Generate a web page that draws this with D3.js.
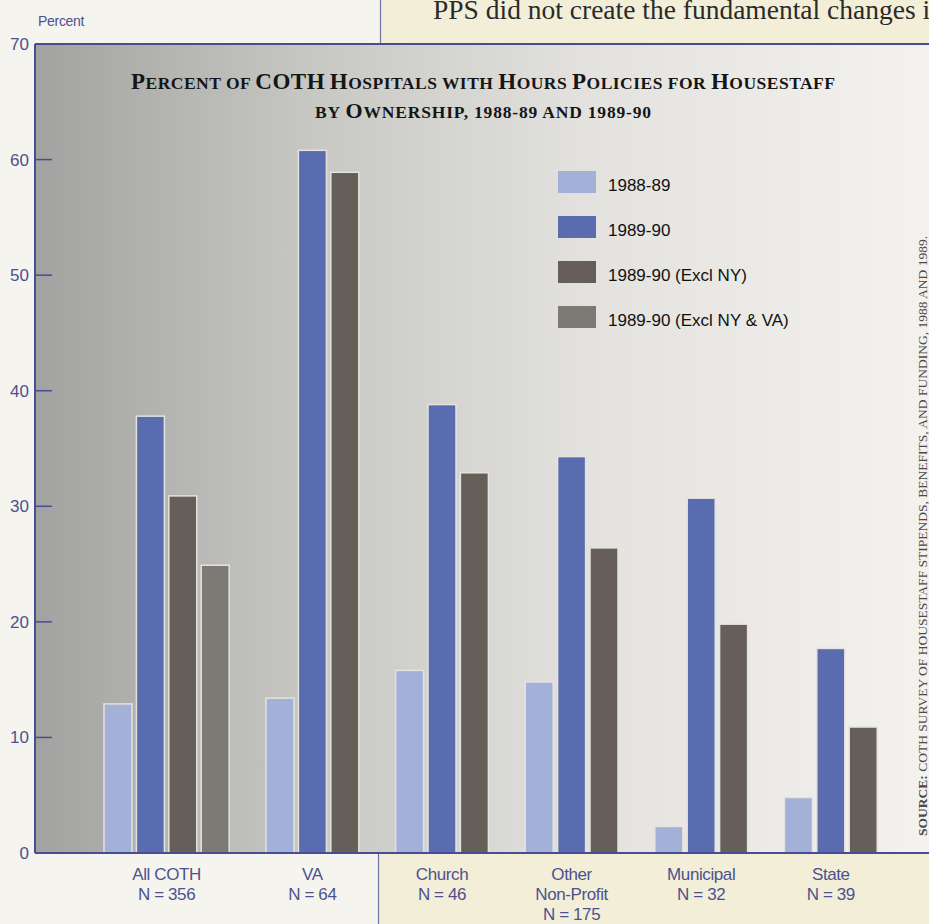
<!DOCTYPE html>
<html lang="en">
  <head>
    <meta charset="UTF-8" />
    <title>COTH Hours Policies</title>
    <script src="https://cdn.jsdelivr.net/npm/d3@7"></script>
    <style>
      body { margin: 0; background: #f5f4ef; }
      svg { display: block; }
    </style>
  </head>
  <body>
    <svg id="chart" width="929" height="924"></svg>

  <script>
    // data
    const categories = ["All COTH", "VA", "Church", "Other Non-Profit", "Municipal", "State"];
    const catLabels = [
      ["All COTH", "N = 356"],
      ["VA", "N = 64"],
      ["Church", "N = 46"],
      ["Other", "Non-Profit", "N = 175"],
      ["Municipal", "N = 32"],
      ["State", "N = 39"]
    ];
    const seriesNames = ["1988-89", "1989-90", "1989-90 (Excl NY)", "1989-90 (Excl NY & VA)"];
    const v1988 = [12.9, 13.4, 15.8, 14.8, 2.3, 4.8];
    const v1989 = [37.8, 60.8, 38.8, 34.3, 30.7, 17.7];
    const vExclNY = [30.9, 58.9, 32.9, 26.4, 19.8, 10.9];
    const vExclNYVA = [24.9, null, null, null, null, null];
    const yTicks = [0, 10, 20, 30, 40, 50, 60, 70];

    const colors = ["#a3b0d8", "#5a6cb0", "#665e58", "#7d7974"];
    const axisBlue = "#464d92";
    const labelBlue = "#4b5290";
    const sans = "Liberation Sans, Arial, sans-serif";
    const serif = "Liberation Serif, DejaVu Serif, serif";

    const svg = d3.select("#chart");
    const width = 929, height = 924;

    // plot box
    const plotLeft = 35, plotTop = 44, plotBottom = 853;

    const y = d3.scaleLinear().domain([0, 70]).range([plotBottom, plotTop]);

    // lay bars out in slots, one empty slot between groups
    let bars = [];
    let groups = [];
    let slot = 0;
    const seriesVals = [v1988, v1989, vExclNY, vExclNYVA];
    categories.forEach(function (c, i) {
      let first = slot;
      seriesVals.forEach(function (vals, s) {
        if (vals[i] != null) {
          bars.push({ cat: c, series: s, value: vals[i], slot: slot });
          slot++;
        }
      });
      groups.push({ cat: c, lines: catLabels[i], first: first, last: slot - 1 });
      slot++;
    });

    const x = d3.scaleLinear().domain([0, 1]).range([104, 136.4]);
    const barW = 28;

    // page backgrounds
    svg.append("rect").attr("x", 0).attr("y", 0).attr("width", width).attr("height", height).attr("fill", "#f5f4ef");
    svg.append("rect").attr("x", 380).attr("y", 0).attr("width", width - 380).attr("height", plotTop).attr("fill", "#f3eed8");
    svg.append("line").attr("x1", 380.5).attr("x2", 380.5).attr("y1", 0).attr("y2", plotTop)
      .attr("stroke", "#6e73a6").attr("stroke-width", 1.2);
    svg.append("rect").attr("x", 378).attr("y", plotBottom).attr("width", width - 378).attr("height", height - plotBottom).attr("fill", "#f3eed8");
    svg.append("line").attr("x1", 378.5).attr("x2", 378.5).attr("y1", plotBottom).attr("y2", height)
      .attr("stroke", "#6e73a6").attr("stroke-width", 1.2);

    // text bleeding in from the facing page
    svg.append("text")
      .attr("x", 433).attr("y", 19)
      .attr("font-family", serif)
      .attr("font-size", 27.5)
      .attr("fill", "#2a2a2a")
      .text("PPS did not create the fundamental changes i");

    // plot background gradient
    const defs = svg.append("defs");
    const grad = defs.append("linearGradient").attr("id", "bg").attr("x1", "0%").attr("x2", "100%").attr("y1", "0%").attr("y2", "0%");
    grad.append("stop").attr("offset", "0%").attr("stop-color", "#a2a2a0");
    grad.append("stop").attr("offset", "30%").attr("stop-color", "#c6c6c3");
    grad.append("stop").attr("offset", "62%").attr("stop-color", "#e3e2de");
    grad.append("stop").attr("offset", "100%").attr("stop-color", "#f3f2ee");

    svg.append("rect").attr("x", plotLeft).attr("y", plotTop).attr("width", width - plotLeft).attr("height", plotBottom - plotTop)
      .attr("fill", "url(#bg)");

    // bars
    svg.append("g").selectAll("rect")
      .data(bars)
      .join("rect")
      .attr("x", d => x(d.slot))
      .attr("y", d => y(d.value))
      .attr("width", barW)
      .attr("height", d => y(0) - y(d.value))
      .attr("fill", d => colors[d.series])
      .attr("stroke", "#e4e3de")
      .attr("stroke-width", 1.5);

    // axes
    const yAxis = d3.axisLeft(y).tickValues(yTicks).tickSize(0).tickPadding(6);
    const gy = svg.append("g").attr("transform", `translate(${plotLeft},0)`).call(yAxis);
    gy.select(".domain").remove();
    gy.selectAll("text")
      .attr("font-family", sans)
      .attr("font-size", 17)
      .attr("fill", labelBlue);
    // small inward tick marks
    svg.append("g").selectAll("line")
      .data(yTicks.filter(t => t > 0 && t < 70))
      .join("line")
      .attr("x1", plotLeft).attr("x2", plotLeft + 17)
      .attr("y1", d => y(d)).attr("y2", d => y(d))
      .attr("stroke", axisBlue).attr("stroke-width", 1.5);

    svg.append("line").attr("x1", plotLeft).attr("x2", plotLeft).attr("y1", plotTop).attr("y2", plotBottom)
      .attr("stroke", axisBlue).attr("stroke-width", 2);
    svg.append("line").attr("x1", plotLeft).attr("x2", width).attr("y1", plotTop).attr("y2", plotTop)
      .attr("stroke", axisBlue).attr("stroke-width", 2);
    svg.append("line").attr("x1", plotLeft).attr("x2", width).attr("y1", plotBottom).attr("y2", plotBottom)
      .attr("stroke", axisBlue).attr("stroke-width", 2);

    svg.append("text")
      .attr("x", 38).attr("y", 26)
      .attr("font-family", sans)
      .attr("font-size", 14)
      .attr("letter-spacing", -0.3)
      .attr("fill", labelBlue)
      .text("Percent");

    // category labels
    const gl = svg.append("g");
    groups.forEach(function (g) {
      const cx = (x(g.first) + x(g.last) + barW) / 2;
      const t = gl.append("text")
        .attr("x", cx)
        .attr("y", 880)
        .attr("text-anchor", "middle")
        .attr("font-family", sans)
        .attr("font-size", 17)
        .attr("letter-spacing", -0.4)
        .attr("fill", labelBlue);
      g.lines.forEach(function (ln, k) {
        t.append("tspan").attr("x", cx).attr("dy", k === 0 ? 0 : 20).text(ln);
      });
    });

    // title, hand-made small caps
    function smallCaps(sel, str, big, small) {
      const runs = str.match(/[A-Z]+|[^A-Z]+/g);
      runs.forEach(function (r) {
        const isBig = /[A-Z]/.test(r[0]);
        sel.append("tspan")
          .attr("font-size", isBig ? big : small)
          .text(isBig ? r : r.toUpperCase());
      });
    }
    const t1 = svg.append("text")
      .attr("x", 483).attr("y", 89)
      .attr("text-anchor", "middle")
      .attr("font-family", serif)
      .attr("font-weight", "bold")
      .attr("textLength", 704)
      .attr("lengthAdjust", "spacing")
      .attr("fill", "#151515");
    smallCaps(t1, "Percent of COTH Hospitals with Hours Policies for Housestaff", 23, 17.5);
    const t2 = svg.append("text")
      .attr("x", 483).attr("y", 118)
      .attr("text-anchor", "middle")
      .attr("font-family", serif)
      .attr("font-weight", "bold")
      .attr("textLength", 336)
      .attr("lengthAdjust", "spacing")
      .attr("fill", "#151515");
    smallCaps(t2, "by Ownership, 1988-89 and 1989-90", 22, 17.5);

    // legend
    const legend = svg.append("g").attr("transform", "translate(558,171)");
    seriesNames.forEach(function (name, i) {
      const row = legend.append("g").attr("transform", `translate(0,${i * 45})`);
      row.append("rect").attr("x", 0).attr("y", 0).attr("width", 38).attr("height", 22).attr("fill", colors[i]);
      row.append("text")
        .attr("x", 50).attr("y", 20)
        .attr("font-family", sans)
        .attr("font-size", 17)
        .attr("fill", "#111")
        .text(name);
    });

    // source, rotated up the right edge
    const src = svg.append("text")
      .attr("transform", "translate(927,836) rotate(-90)")
      .attr("font-family", serif)
      .attr("font-size", 13.5)
      .attr("fill", "#4a4a4a");
    src.append("tspan").attr("font-weight", "bold").text("SOURCE: ");
    src.append("tspan").text("COTH SURVEY OF HOUSESTAFF STIPENDS, BENEFITS, AND FUNDING, 1988 AND 1989.");
  </script>
  </body>
</html>
